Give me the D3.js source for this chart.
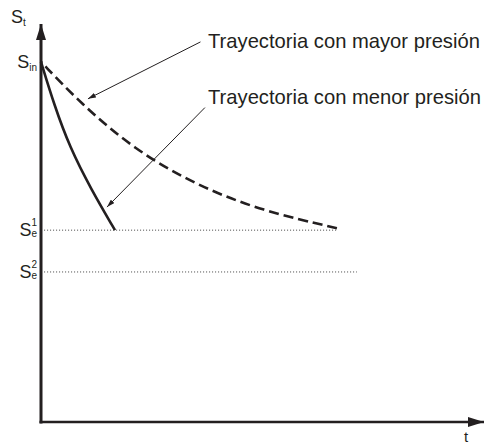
<!DOCTYPE html>
<head>
    <meta charset="utf-8">
    <title>Trayectorias S vs t</title>
    <script src="https://d3js.org/d3.v7.min.js"></script>
    <style>
      body { margin: 0; background: #fff; }
      text { font-family: "Liberation Sans", Arial, sans-serif; fill: #231f20; }
    </style>
</head>

<body>
    <svg width=485 height=445></svg>
</body>

<script>
// levels on the S axis
const levelSub = ["in", "e", "e"];
const levelSup = ["", "1", "2"];
const levelValues = [90.5, 48.2, 37.7];
const dottedEnd = [null, 67.0, 71.3];   // t where the dotted guide ends

// trajectory with lower pressure (solid)
const lowT = [0, 3.0, 6.5, 11.3, 16.7];
const lowS = [90.5, 79.6, 69.0, 58.5, 48.2];

// trajectory with higher pressure (dashed)
const highT = [0, 9.0, 21.0, 35.0, 50.0, 66.8];
const highS = [90.5, 80.0, 68.5, 59.5, 53.0, 48.7];

// callouts: label, text anchor (t,S), leader start (t,S), leader tip (t,S)
const calloutText = ["Trayectoria con mayor presión", "Trayectoria con menor presión"];
const calloutAt = [[37.7, 94.0], [37.7, 80.0]];
const leaderFrom = [[36.0, 95.5], [37.0, 79.0]];
const leaderTo = [[10.6, 81.2], [14.9, 54.0]];

const ink = "#231f20";

const svg = d3.select("svg");

const x = d3.scaleLinear().domain([0, 100]).range([41, 484]);
const y = d3.scaleLinear().domain([0, 100]).range([422, 24]);

const defs = svg.append("defs");
defs.append("marker")
  .attr("id", "axisHead")
  .attr("viewBox", "0 0 16 10")
  .attr("refX", 16).attr("refY", 5)
  .attr("markerWidth", 16).attr("markerHeight", 10)
  .attr("markerUnits", "userSpaceOnUse")
  .attr("orient", "auto")
  .append("path")
  .attr("d", "M0,0L16,5L0,10Z")
  .attr("fill", ink);

defs.append("marker")
  .attr("id", "leaderHead")
  .attr("viewBox", "0 0 8 5")
  .attr("refX", 8).attr("refY", 2.5)
  .attr("markerWidth", 8).attr("markerHeight", 5)
  .attr("markerUnits", "userSpaceOnUse")
  .attr("orient", "auto")
  .append("path")
  .attr("d", "M0,0L8,2.5L0,5Z")
  .attr("fill", ink);

// dotted guides for the equilibrium levels
levelValues.forEach((v, i) => {
  if (dottedEnd[i] === null) return;
  svg.append("line")
    .attr("x1", x(0.7)).attr("x2", x(dottedEnd[i]))
    .attr("y1", y(v)).attr("y2", y(v))
    .attr("stroke", "#444")
    .attr("stroke-width", 1)
    .attr("stroke-dasharray", "1,2");
});

// axes
svg.append("line")
  .attr("x1", x(0)).attr("x2", x(0))
  .attr("y1", y(0) + 1.5).attr("y2", y(100))
  .attr("stroke", ink).attr("stroke-width", 3)
  .attr("marker-end", "url(#axisHead)");

svg.append("line")
  .attr("x1", x(0) - 1.5).attr("x2", x(100))
  .attr("y1", y(0)).attr("y2", y(0))
  .attr("stroke", ink).attr("stroke-width", 2.5)
  .attr("marker-end", "url(#axisHead)");

// curves
const line = d3.line()
  .x(d => x(d[0]))
  .y(d => y(d[1]))
  .curve(d3.curveBasis);

const dashed = svg.append("path")
  .datum(highT.map((t, i) => [t, highS[i]]))
  .attr("d", line)
  .attr("fill", "none")
  .attr("stroke", ink)
  .attr("stroke-width", 2.6)
  .attr("stroke-dasharray", "10,5");

// make the dashed curve end on a full dash
const len = dashed.node().getTotalLength();
dashed.attr("stroke-dashoffset", ((10 - len % 15) + 15) % 15);

svg.append("path")
  .datum(lowT.map((t, i) => [t, lowS[i]]))
  .attr("d", line)
  .attr("fill", "none")
  .attr("stroke", ink)
  .attr("stroke-width", 2.6);

// level labels on the S axis
const labels = svg.append("g");
levelValues.forEach((v, i) => {
  const t = labels.append("text")
    .attr("x", x(0) - 4)
    .attr("y", y(v) + 6)
    .attr("text-anchor", "end")
    .attr("font-size", "18px");
  t.append("tspan").text("S");
  t.append("tspan")
    .attr("font-size", "10px")
    .attr("dy", levelSup[i] ? 1 : 3)
    .text(levelSub[i]);
  if (levelSup[i]) {
    labels.append("text")
      .attr("x", x(0) - 4)
      .attr("y", y(v) - 4)
      .attr("text-anchor", "end")
      .attr("font-size", "10px")
      .text(levelSup[i]);
  }
});

// axis names
const st = svg.append("text")
  .attr("x", 11).attr("y", 23)
  .attr("font-size", "18px");
st.append("tspan").text("S");
st.append("tspan").attr("font-size", "10px").attr("dy", 3).text("t");

svg.append("text")
  .attr("x", x(100) - 20).attr("y", 442)
  .attr("font-size", "15px")
  .text("t");

// callouts
calloutText.forEach((s, i) => {
  svg.append("line")
    .attr("x1", x(leaderFrom[i][0])).attr("y1", y(leaderFrom[i][1]))
    .attr("x2", x(leaderTo[i][0])).attr("y2", y(leaderTo[i][1]))
    .attr("stroke", ink).attr("stroke-width", 1)
    .attr("marker-end", "url(#leaderHead)");

  svg.append("text")
    .attr("x", x(calloutAt[i][0]))
    .attr("y", y(calloutAt[i][1]))
    .attr("font-size", "20.2px")
    .text(s);
});
</script>
